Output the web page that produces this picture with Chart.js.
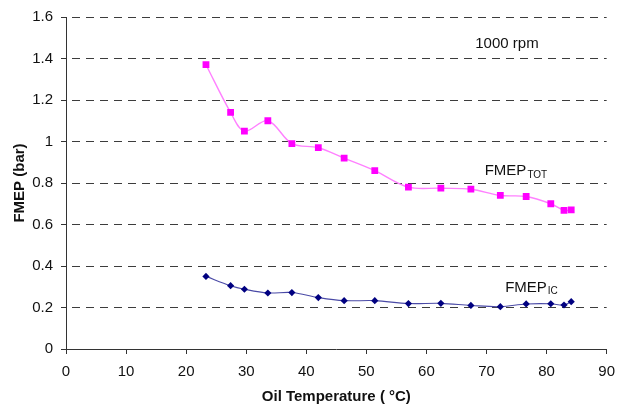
<!DOCTYPE html>
<html>
<head>
<meta charset="utf-8">
<title>FMEP vs Oil Temperature</title>
<script src="https://cdn.jsdelivr.net/npm/chart.js@4/dist/chart.umd.min.js"></script>
<style>
  html, body { margin: 0; padding: 0; background: #fff; }
  #chart { display: block; }
</style>
</head>
<body>
<canvas id="chart" width="624" height="410"></canvas>
<script>
// oil temperature (deg C) for each measuring point, shared by both curves
var oilTemp = [23.3, 27.4, 29.7, 33.6, 37.6, 42.0, 46.3, 51.4, 57.0, 62.4, 67.4, 72.3, 76.6, 80.7, 82.9, 84.1];

// total friction mean effective pressure (bar)
var fmepTot = [1.37, 1.14, 1.05, 1.10, 0.99, 0.97, 0.92, 0.86, 0.78, 0.775, 0.77, 0.74, 0.735, 0.70, 0.668, 0.67];

// friction of the IC part (bar)
var fmepIc = [0.35, 0.305, 0.288, 0.27, 0.272, 0.248, 0.233, 0.233, 0.219, 0.22, 0.21, 0.204, 0.217, 0.218, 0.212, 0.228];

var xTicks = [0, 10, 20, 30, 40, 50, 60, 70, 80, 90];
var yTicks = [0, 0.2, 0.4, 0.6, 0.8, 1, 1.2, 1.4, 1.6];

// text notes placed in data units: [x, y, main text, subscript]
var notes = [
  [73.4, 1.453, "1000 rpm", ""],
  [69.7, 0.838, "FMEP", "TOT"],
  [73.1, 0.277, "FMEP", "IC"]
];

var FONT = "'Liberation Sans', Arial, sans-serif";

function toPoints(xs, ys) {
  return xs.map(function (x, i) { return { x: x, y: ys[i] }; });
}

var notesPlugin = {
  id: "notes",
  afterDatasetsDraw: function (chart) {
    var ctx = chart.ctx;
    var sx = chart.scales.x;
    var sy = chart.scales.y;
    ctx.save();
    ctx.fillStyle = "#111";
    ctx.textBaseline = "alphabetic";
    notes.forEach(function (n) {
      var px = sx.getPixelForValue(n[0]);
      var py = sy.getPixelForValue(n[1]);
      ctx.font = "15px " + FONT;
      if (!n[3]) {
        ctx.textAlign = "center";
        ctx.fillText(n[2], px, py);
        return;
      }
      ctx.textAlign = "left";
      ctx.fillText(n[2], px, py);
      var w = ctx.measureText(n[2]).width;
      ctx.font = "10px " + FONT;
      ctx.fillText(n[3], px + w + 1, py + 2.5);
    });
    ctx.restore();
  }
};

new Chart(document.getElementById("chart").getContext("2d"), {
  type: "scatter",
  data: {
    datasets: [
      {
        label: "FMEP TOT",
        data: toPoints(oilTemp, fmepTot),
        showLine: true,
        tension: 0.35,
        borderColor: "#ff80ff",
        borderWidth: 1.4,
        pointStyle: "rect",
        pointRadius: 4.8,
        pointBackgroundColor: "#ff00ff",
        pointBorderColor: "#ff00ff",
        pointBorderWidth: 0
      },
      {
        label: "FMEP IC",
        data: toPoints(oilTemp, fmepIc),
        showLine: true,
        tension: 0.35,
        borderColor: "#4a4aa6",
        borderWidth: 1.1,
        pointStyle: "rectRot",
        pointRadius: 3.6,
        pointBackgroundColor: "#000080",
        pointBorderColor: "#000080",
        pointBorderWidth: 0
      }
    ]
  },
  options: {
    responsive: false,
    animation: false,
    devicePixelRatio: 1,
    layout: { padding: { top: 12, right: 10, left: 0, bottom: 0 } },
    plugins: {
      legend: { display: false },
      tooltip: { enabled: false }
    },
    scales: {
      x: {
        type: "linear",
        min: 0,
        max: 90,
        afterBuildTicks: function (scale) {
          scale.ticks = xTicks.map(function (v) { return { value: v }; });
        },
        afterFit: function (scale) { scale.height = 61; },
        grid: {
          drawOnChartArea: false,
          drawTicks: true,
          tickLength: 5,
          tickColor: "#333",
          color: "#333"
        },
        border: { display: true, color: "#333", width: 1 },
        ticks: {
          padding: 9,
          color: "#111",
          maxRotation: 0,
          font: { family: FONT, size: 15 }
        },
        title: {
          display: true,
          text: "Oil Temperature ( °C)",
          color: "#111",
          font: { family: FONT, size: 15, weight: "bold" },
          padding: { top: 0, bottom: 4 }
        }
      },
      y: {
        type: "linear",
        min: 0,
        max: 1.6,
        afterBuildTicks: function (scale) {
          scale.ticks = yTicks.map(function (v) { return { value: v }; });
        },
        afterFit: function (scale) { scale.width = 66; },
        grid: {
          drawTicks: true,
          tickLength: 5,
          tickColor: "#333",
          lineWidth: 1,
          color: function (c) {
            return c.tick && c.tick.value === 0 ? "rgba(0,0,0,0)" : "#3c3c3c";
          }
        },
        border: { display: true, color: "#333", width: 1, dash: [8, 6], dashOffset: 9 },
        ticks: {
          padding: 8,
          color: "#111",
          font: { family: FONT, size: 15 },
          callback: function (v) { return String(+v.toFixed(1)); }
        },
        title: {
          display: true,
          text: "FMEP (bar)",
          color: "#111",
          font: { family: FONT, size: 15, weight: "bold" },
          padding: { top: 11, bottom: 0 }
        }
      }
    }
  },
  plugins: [notesPlugin]
});
</script>
</body>
</html>
